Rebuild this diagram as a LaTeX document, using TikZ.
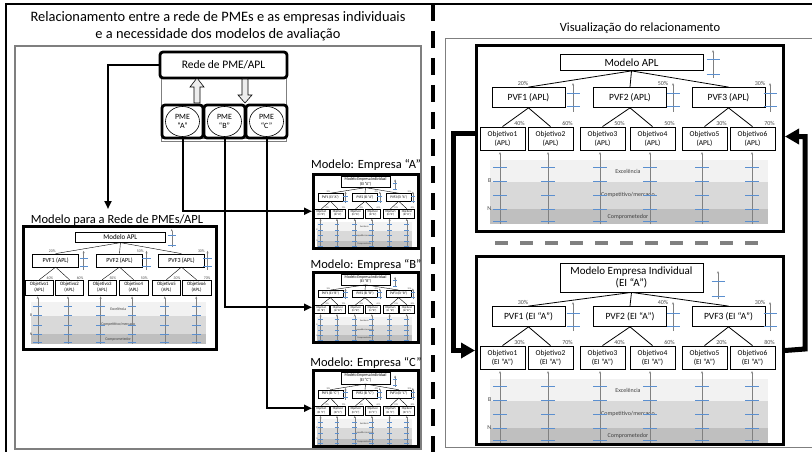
\documentclass[tikz,border=0pt]{standalone}
\usepackage{fontspec}
\setmainfont{Carlito}
\usetikzlibrary{arrows.meta,shapes.geometric}

\definecolor{bandhi}{HTML}{F2F2F2}
\definecolor{bandmid}{HTML}{D9D9D9}
\definecolor{bandlo}{HTML}{BFBFBF}
\definecolor{tickblue}{HTML}{5B8FCF}
\definecolor{scalegray}{HTML}{808080}
\definecolor{framegray}{HTML}{7F7F7F}
\definecolor{hollowfill}{HTML}{EDEDED}

% weights of the three PVFs and of the six objectives
\newcommand\mdweights[9]{\def\wA{#1}\def\wB{#2}\def\wC{#3}\def\wD{#4}\def\wE{#5}\def\wF{#6}\def\wG{#7}\def\wH{#8}\def\wI{#9}}
% tree offset, title centre, title height, title scale x, title scale offset
\newcommand\mdlayout[5]{\def\mdd{#1}\def\mtcy{#2}\def\mtht{#3}\def\mtsx{#4}\def\mts{#5}}

% one evaluation model, drawn in a 307 x 188 box whose top left corner is the origin
\newcommand\drawmodel[3]{%
  \fill[bandhi] (15,116+\mdd) rectangle (293,138+\mdd);
  \fill[bandmid] (15,138+\mdd) rectangle (293,165+\mdd);
  \fill[bandlo] (15,165+\mdd) rectangle (293,180+\mdd);
  \node[bandtxt] (#1-exc) at (153,127+\mdd) {Excelência};
  \node[bandtxt] (#1-mkt) at (153,151+\mdd) {Competitivo/mercado};
  \node[bandtxt] (#1-cpr) at (153,173+\mdd) {Comprometedor};
  \node[bandtxt,anchor=east] (#1-b) at (17,137+\mdd) {B};
  \node[bandtxt,anchor=east] (#1-n) at (17,165+\mdd) {N};
  \foreach \sx in {25,73,125,175,227,277}{%
    \draw[scaleax] (\sx,180+\mdd) -- (\sx,108+\mdd);
    \foreach \ty in {123,137,151,165,177}{\draw[tick] (\sx-7,\ty+\mdd) -- (\sx+7,\ty+\mdd);}
  }
  % title and its scale
  \node[titlebox, minimum height=\mtht] (#1-t) at (156.5,\mtcy) {#2};
  \draw[scaleax] (\mtsx,34+\mts) -- (\mtsx,6+\mts);
  \draw[tick] (\mtsx-6.5,16+\mts) -- (\mtsx+6.5,16+\mts);
  \draw[tick] (\mtsx-6.5,31+\mts) -- (\mtsx+6.5,31+\mts);
  % fundamental points of view
  \node[pvfbox] (#1-p1) at (53.5,53.5+\mdd) {PVF1 (#3)};
  \node[pvfbox] (#1-p2) at (155,53.5+\mdd) {PVF2 (#3)};
  \node[pvfbox] (#1-p3) at (253.5,53.5+\mdd) {PVF3 (#3)};
  \foreach \sx in {98,198,295}{%
    \draw[scaleax] (\sx,68+\mdd) -- (\sx,39+\mdd);
    \draw[tick] (\sx-6.5,50+\mdd) -- (\sx+6.5,50+\mdd);
    \draw[tick] (\sx-6.5,63+\mdd) -- (\sx+6.5,63+\mdd);
  }
  \draw[link] (#1-t.south) -- (#1-p1.north);
  \draw[link] (#1-t.south) -- (#1-p2.north);
  \draw[link] (#1-t.south) -- (#1-p3.north);
  \node[pct] (#1-w1) at (48,39.5+\mdd) {\wA\%};
  \node[pct] (#1-w2) at (188,39.5+\mdd) {\wB\%};
  \node[pct] (#1-w3) at (285,39.5+\mdd) {\wC\%};
  % objectives
  \node[objbox] (#1-o1) at (27.5,94.5+\mdd) {Objetivo1\\(#3)};
  \node[objbox] (#1-o2) at (75.5,94.5+\mdd) {Objetivo2\\(#3)};
  \node[objbox] (#1-o3) at (127.5,94.5+\mdd) {Objetivo3\\(#3)};
  \node[objbox] (#1-o4) at (177.5,94.5+\mdd) {Objetivo4\\(#3)};
  \node[objbox] (#1-o5) at (229.5,94.5+\mdd) {Objetivo5\\(#3)};
  \node[objbox] (#1-o6) at (277.5,94.5+\mdd) {Objetivo6\\(#3)};
  \draw[link] (#1-p1.south) -- (#1-o1.north);
  \draw[link] (#1-p1.south) -- (#1-o2.north);
  \draw[link] (#1-p2.south) -- (#1-o3.north);
  \draw[link] (#1-p2.south) -- (#1-o4.north);
  \draw[link] (#1-p3.south) -- (#1-o5.north);
  \draw[link] (#1-p3.south) -- (#1-o6.north);
  \node[pct,anchor=south east] (#1-w4) at (#1-o1.north east) {\wD\%};
  \node[pct,anchor=south east] (#1-w5) at (#1-o2.north east) {\wE\%};
  \node[pct,anchor=south east] (#1-w6) at (#1-o3.north east) {\wF\%};
  \node[pct,anchor=south east] (#1-w7) at (#1-o4.north east) {\wG\%};
  \node[pct,anchor=south east] (#1-w8) at (#1-o5.north east) {\wH\%};
  \node[pct,anchor=south east] (#1-w9) at (#1-o6.north east) {\wI\%};
}

\begin{document}
\begin{tikzpicture}[x=1pt,y=-1pt,
  modbox/.style={draw=black, fill=white, line width=0.8pt, inner sep=1pt, align=center},
  titlebox/.style={modbox, minimum width=143pt, font=\fontsize{11}{12.5}\selectfont},
  pvfbox/.style={modbox, minimum width=73pt, minimum height=20pt, font=\fontsize{9.5}{11}\selectfont},
  objbox/.style={modbox, minimum width=45pt, minimum height=23pt, font=\fontsize{7.5}{9}\selectfont},
  pct/.style={font=\fontsize{6}{7}\selectfont, text=black!70, inner sep=0.5pt},
  bandtxt/.style={font=\fontsize{6}{7}\selectfont, text=black!75, inner sep=0.5pt},
  scaleax/.style={draw=scalegray, line width=0.5pt, -{Stealth[length=2.5pt,width=2pt]}},
  tick/.style={draw=tickblue, line width=1pt},
  link/.style={draw=black, line width=0.8pt},
  modframe/.style={draw=black, line width=3pt, inner sep=0pt, anchor=north west},
  mini/.style={transform shape,
    modbox/.append style={line width=0.4pt},
    tick/.append style={line width=0.5pt},
    scaleax/.append style={line width=0.3pt},
    link/.append style={line width=0.4pt}},
  paneltitle/.style={font=\fontsize{14.4}{17}\selectfont, align=center, inner sep=0pt},
  mlabel/.style={font=\fontsize{12.5}{14}\selectfont, inner sep=0pt},
  netbox/.style={draw=black, fill=white, line width=2.8pt, rounded corners=3pt, inner sep=0pt},
  pmecirc/.style={ellipse, draw=black, line width=0.6pt, minimum width=34pt, minimum height=30pt, inner sep=0pt, align=center, font=\fontsize{8}{9}\selectfont},
  hollow/.style={draw=black, fill=hollowfill, line width=0.6pt},
  wire/.style={draw=black, line width=2pt, -{Triangle[length=8pt,width=7pt]}},
  bigwire/.style={draw=black, line width=5pt, -{Triangle[length=14pt,width=15pt]}}
]
\useasboundingbox (0,0) rectangle (812,452);

% frames of the two panels
\draw[line width=2.5pt] (6,455) -- (6,4) -- (815,4);
\draw[draw=framegray, line width=1.2pt] (15,46) rectangle (421,449);
\draw[draw=framegray, line width=0.8pt] (445,38) rectangle (816,447);
\draw[line width=3.5pt, dash pattern=on 17pt off 10pt] (433,4) -- (433,455);

% panel titles
\node[paneltitle] (ltitle) at (218,26.5) {Relacionamento entre a rede de PMEs e as empresas individuais\\e a necessidade dos modelos de avaliação};
\node[paneltitle, font=\fontsize{12.5}{15}\selectfont] (rtitle) at (640,28) {Visualização do relacionamento};

% ---------------- network of SMEs ----------------
\draw[draw=framegray, line width=0.6pt] (161,70) rectangle (286,141);
\draw[draw=framegray, line width=0.6pt] (161,138.5) -- (286,138.5);
\node[netbox, minimum width=127pt, minimum height=26pt, font=\fontsize{11.5}{13}\selectfont] (rede) at (223.5,65) {Rede de PME/APL};
\node[netbox, minimum width=41pt, minimum height=33pt] (pmeA) at (182.5,121.5) {};
\node[netbox, minimum width=41pt, minimum height=33pt] (pmeB) at (224.5,121.5) {};
\node[netbox, minimum width=41pt, minimum height=33pt] (pmeC) at (266.5,121.5) {};
\node[pmecirc] (cA) at (182.5,121.5) {PME\\“A”};
\node[pmecirc] (cB) at (224.5,121.5) {PME\\“B”};
\node[pmecirc] (cC) at (266.5,121.5) {PME\\“C”};
% hollow arrows between the network and the firms
\draw[hollow] (194,103) -- (194,87) -- (190,87) -- (197,78) -- (204,87) -- (200,87) -- (200,103) -- cycle;
\draw[hollow] (242,79) -- (242,95) -- (238,95) -- (245,103) -- (252,95) -- (248,95) -- (248,79) -- cycle;

% ---------------- small copies of the models ----------------
\node[mlabel, anchor=base] (lbAPL) at (117,223) {Modelo para a Rede de PMEs/APL};
\node[mlabel, anchor=base] (lbA) at (366,168) {Modelo: Empresa “A”};
\node[mlabel, anchor=base] (lbB) at (366,268) {Modelo: Empresa “B”};
\node[mlabel, anchor=base] (lbC) at (366,366) {Modelo: Empresa “C”};

\mdlayout{0}{18.5}{16pt}{238}{0}
\mdweights{20}{50}{30}{40}{60}{50}{50}{30}{70}
\begin{scope}[shift={(22,225)}, xscale=0.629, yscale=0.661, mini]
  \drawmodel{sapl}{Modelo APL}{APL}
\end{scope}
\node[modframe, line width=2.5pt, minimum width=193pt, minimum height=123pt] (mAPL) at (22,225) {};

\mdlayout{8}{22.5}{29pt}{243}{10}
\mdweights{30}{40}{30}{30}{70}{40}{60}{20}{80}
\begin{scope}[shift={(312,173)}, xscale=0.342, yscale=0.394, mini]
  \drawmodel{sea}{Modelo Empresa Individual\\(EI “A”)}{EI “A”}
\end{scope}
\node[modframe, line width=2.5pt, minimum width=105pt, minimum height=74pt] (mA) at (312,173) {};
\begin{scope}[shift={(312,271)}, xscale=0.342, yscale=0.372, mini]
  \drawmodel{seb}{Modelo Empresa Individual\\(EI “B”)}{EI “B”}
\end{scope}
\node[modframe, line width=2.5pt, minimum width=105pt, minimum height=70pt] (mB) at (312,271) {};
\begin{scope}[shift={(312,369)}, xscale=0.342, yscale=0.404, mini]
  \drawmodel{sec}{Modelo Empresa Individual\\(EI “C”)}{EI “C”}
\end{scope}
\node[modframe, line width=2.5pt, minimum width=105pt, minimum height=76pt] (mC) at (312,369) {};

% connectors of the left panel
\coordinate (kR) at (108,65);
\coordinate (kRend) at (108,209);
\draw[wire] (rede.west) -- (kR) -- (kRend);
\draw[wire] (pmeA.south) |- (mA.west);
\draw[wire] (pmeB.south) |- (mB.west);
\draw[wire] (pmeC.south) |- (mC.west);

% ---------------- right panel: full size models ----------------
\mdlayout{0}{18.5}{16pt}{238}{0}
\mdweights{20}{50}{30}{40}{60}{50}{50}{30}{70}
\begin{scope}[shift={(475,44)}]
  \drawmodel{apl}{Modelo APL}{APL}
\end{scope}
\node[modframe, minimum width=307pt, minimum height=186pt] (bAPL) at (475,44) {};

\draw[draw=scalegray, line width=3.5pt, dash pattern=on 13pt off 12pt] (495,243) -- (765,243);

\mdlayout{8}{22.5}{29pt}{243}{10}
\mdweights{30}{40}{30}{30}{70}{40}{60}{20}{80}
\begin{scope}[shift={(475,255)}]
  \drawmodel{ei}{Modelo Empresa Individual\\(EI “A”)}{EI “A”}
\end{scope}
\node[modframe, minimum width=307pt, minimum height=188pt] (bEI) at (475,255) {};

% feedback between the two models
\coordinate (kL) at (453,133);
\coordinate (kE) at (805,349);
\draw[bigwire] (bAPL.west |- kL) -- (kL) |- (bEI.west);
\draw[bigwire] (bEI.east) -- (kE) |- ([yshift=2pt]bAPL.east);
\end{tikzpicture}
\end{document}
